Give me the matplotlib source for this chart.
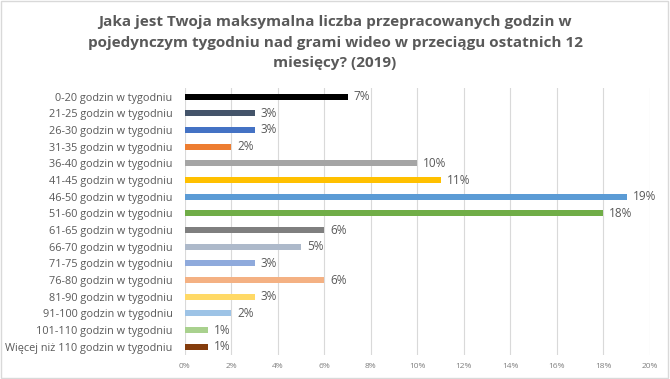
import matplotlib
matplotlib.use("Agg")
from matplotlib import pyplot as plt
from matplotlib.patches import Rectangle
from matplotlib.ticker import FuncFormatter

categories = [
    "0-20 godzin w tygodniu",
    "21-25 godzin w tygodniu",
    "26-30 godzin w tygodniu",
    "31-35 godzin w tygodniu",
    "36-40 godzin w tygodniu",
    "41-45 godzin w tygodniu",
    "46-50 godzin w tygodniu",
    "51-60 godzin w tygodniu",
    "61-65 godzin w tygodniu",
    "66-70 godzin w tygodniu",
    "71-75 godzin w tygodniu",
    "76-80 godzin w tygodniu",
    "81-90 godzin w tygodniu",
    "91-100 godzin w tygodniu",
    "101-110 godzin w tygodniu",
    "Więcej niż 110 godzin w tygodniu",
]
values = [7, 3, 3, 2, 10, 11, 19, 18, 6, 5, 3, 6, 3, 2, 1, 1]
colors = ["#000000", "#44546A", "#4472C4", "#ED7D31", "#A5A5A5", "#FFC000",
          "#5B9BD5", "#70AD47", "#7F7F7F", "#ADB9CA", "#8FAADC", "#F4B183",
          "#FFD966", "#9DC3E6", "#A9D18E", "#843C0C"]
xticks = list(range(0, 21, 2))

title = ("Jaka jest Twoja maksymalna liczba przepracowanych godzin w\n"
         "pojedynczym tygodniu nad grami wideo w przeciągu ostatnich 12\n"
         "miesięcy? (2019)")

plt.rcParams['font.family'] = ['Open Sans', 'DejaVu Sans']

fig = plt.figure(figsize=(6.7, 3.79), dpi=100)
ax = fig.add_axes([0.276, 0.063, 0.694, 0.704])

pos = list(range(len(categories)))
ax.barh(pos, values, height=0.36, color=colors, zorder=3)
for p, v in zip(pos, values):
    ax.text(v + 0.25, p, f"{v}%", va="center", ha="left",
            fontsize=8.5, color="#595959")

ax.set_ylim(len(categories) - 0.5, -0.5)
ax.set_yticks(pos)
ax.set_yticklabels(categories, fontsize=7.8, color="#595959")
ax.set_xlim(0, 20)
ax.set_xticks(xticks)
ax.xaxis.set_major_formatter(FuncFormatter(lambda x, _: f"{x:.0f}%"))
ax.tick_params(axis="x", labelsize=6, colors="#808080", length=0, pad=6)
ax.tick_params(axis="y", length=0, pad=9)
ax.grid(axis="x", color="#D9D9D9", linewidth=0.8, zorder=0)
for s in ax.spines.values():
    s.set_visible(False)

fig.text(0.5, 0.96, title, ha="center", va="top", fontsize=11,
         fontweight="bold", color="#595959", linespacing=1.6)

fig.patches.append(Rectangle((0.002, 0.003), 0.995, 0.994, transform=fig.transFigure,
                             fill=False, edgecolor="#D9D9D9", linewidth=1))

fig.savefig("out.png", dpi=100)
